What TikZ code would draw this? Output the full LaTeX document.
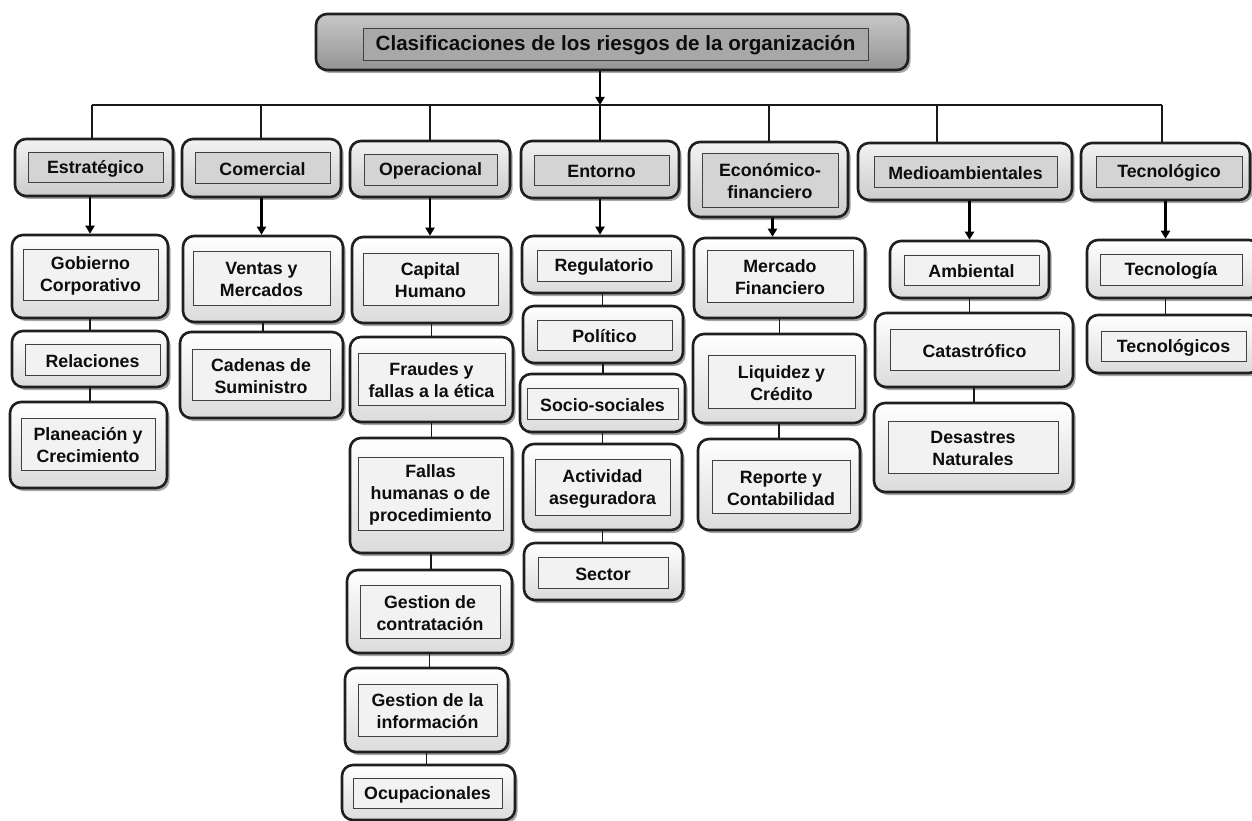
\documentclass[tikz,border=0pt]{standalone}
\usepackage{fontspec}
\setmainfont{Liberation Sans}
\usetikzlibrary{arrows.meta,fit,shadows}

% A rounded box with an inner framed label:
% #1 name, #2/#3 outer corners, #4/#5 inner corners, #6 text, #7 level (child, cat, title)
\newcommand\riskbox[7]{%
  \node[#7O, fit={#2 #3}] (#1) {};
  \node[#7I, fit={#4 #5}] (#1-i) {};
  \node[lbl, #7T] (#1-t) at ([yshift=-1.5pt]#1-i.center) {#6};
}

\begin{document}
\begin{tikzpicture}[x=1pt, y=-1pt,
  outerbox/.style={draw=black!88, line width=2.6pt, rounded corners=11pt, inner sep=0pt,
    drop shadow={shadow xshift=2.5pt, shadow yshift=-3pt, opacity=0.35, fill=black}},
  childO/.style={outerbox, top color=white, bottom color=black!14},
  catO/.style={outerbox, top color=black!5, bottom color=black!20},
  titleO/.style={outerbox, top color=black!22, bottom color=black!42},
  innerbox/.style={draw=black!75, line width=0.9pt, inner sep=0pt},
  childI/.style={innerbox, fill=black!5},
  catI/.style={innerbox, fill=black!17},
  titleI/.style={innerbox, fill=black!34},
  lbl/.style={font=\bfseries\fontsize{17.8}{22}\selectfont, align=center, text=black!95, inner sep=0pt},
  childT/.style={}, catT/.style={},
  titleT/.style={font=\bfseries\fontsize{20.6}{24}\selectfont},
  link/.style={line width=1.4pt, black!90},
  arr/.style={line width=2.6pt, black, -{Triangle[length=8pt,width=9pt]}},
  trunk/.style={line width=2.6pt, black}
]
\useasboundingbox (0,0) rectangle (1252,821);

% title
\riskbox{title}{(316,14)}{(908,70)}{(363,28)}{(868,60)}{Clasificaciones de los riesgos de la organización}{title}

% categories
\riskbox{estr}{(15,139)}{(173,196)}{(28,152)}{(163,182)}{Estratégico}{cat}
\riskbox{com}{(182,139)}{(341,197)}{(195,152)}{(330,183)}{Comercial}{cat}
\riskbox{op}{(350,141)}{(510,197)}{(364,154)}{(497,185)}{Operacional}{cat}
\riskbox{ent}{(521,141)}{(679,198)}{(534,155)}{(669,185)}{Entorno}{cat}
\riskbox{eco}{(689,142)}{(848,217)}{(702,153)}{(838,207)}{Económico-\\financiero}{cat}
\riskbox{med}{(858,143)}{(1072,200)}{(874,156)}{(1057,187)}{Medioambientales}{cat}
\riskbox{tec}{(1081,143)}{(1250,200)}{(1096,156)}{(1242,187)}{Tecnológico}{cat}

% Estratégico
\riskbox{gob}{(12,235)}{(168,318)}{(23,249)}{(158,300)}{Gobierno\\Corporativo}{child}
\riskbox{rel}{(12,331)}{(168,387)}{(25,344)}{(160,375)}{Relaciones}{child}
\riskbox{pla}{(10,402)}{(167,488)}{(21,418)}{(155,470)}{Planeación y\\Crecimiento}{child}
% Comercial
\riskbox{ven}{(183,236)}{(343,322)}{(193,251)}{(330,305)}{Ventas y\\Mercados}{child}
\riskbox{cad}{(180,332)}{(343,418)}{(192,349)}{(330,400)}{Cadenas de\\Suministro}{child}
% Operacional
\riskbox{cap}{(352,237)}{(511,323)}{(363,253)}{(498,305)}{Capital\\Humano}{child}
\riskbox{fra}{(350,337)}{(513,422)}{(358,353)}{(505,405)}{Fraudes y\\fallas a la ética}{child}
\riskbox{fal}{(350,438)}{(512,553)}{(358,457)}{(503,530)}{Fallas\\humanas o de\\procedimiento}{child}
\riskbox{gco}{(347,570)}{(512,653)}{(360,585)}{(500,638)}{Gestion de\\contratación}{child}
\riskbox{gin}{(345,668)}{(508,752)}{(358,684)}{(497,736)}{Gestion de la\\información}{child}
\riskbox{ocu}{(342,765)}{(515,820)}{(353,778)}{(502,808)}{Ocupacionales}{child}
% Entorno
\riskbox{reg}{(522,236)}{(683,293)}{(537,250)}{(671,281)}{Regulatorio}{child}
\riskbox{pol}{(523,306)}{(683,363)}{(537,320)}{(672,350)}{Político}{child}
\riskbox{soc}{(520,374)}{(685,432)}{(527,388)}{(678,419)}{Socio-sociales}{child}
\riskbox{act}{(523,444)}{(682,530)}{(535,459)}{(670,515)}{Actividad\\aseguradora}{child}
\riskbox{sec}{(524,543)}{(683,600)}{(538,557)}{(668,588)}{Sector}{child}
% Económico-financiero
\riskbox{mer}{(694,238)}{(865,318)}{(707,250)}{(853,302)}{Mercado\\Financiero}{child}
\riskbox{liq}{(693,334)}{(865,423)}{(708,355)}{(855,408)}{Liquidez y\\Crédito}{child}
\riskbox{rep}{(698,439)}{(860,530)}{(712,460)}{(850,513)}{Reporte y\\Contabilidad}{child}
% Medioambientales
\riskbox{amb}{(890,241)}{(1049,298)}{(904,255)}{(1039,285)}{Ambiental}{child}
\riskbox{cat}{(875,313)}{(1073,387)}{(890,329)}{(1059,370)}{Catastrófico}{child}
\riskbox{des}{(874,403)}{(1073,492)}{(888,421)}{(1058,473)}{Desastres\\Naturales}{child}
% Tecnológico
\riskbox{tcn}{(1087,240)}{(1260,298)}{(1100,254)}{(1242,285)}{Tecnología}{child}
\riskbox{tcs}{(1087,315)}{(1260,373)}{(1101,331)}{(1246,361)}{Tecnológicos}{child}

% distribution bar
\coordinate (hub) at (600,105);
\coordinate (d1) at (92,105);
\coordinate (d2) at (261,105);
\coordinate (d3) at (430,105);
\coordinate (d5) at (769,105);
\coordinate (d6) at (937,105);
\coordinate (d7) at (1162,105);
\draw[link] (d1) -- (d7);
\draw[arr] (hub |- title.south) -- (hub);
\draw[trunk] (hub) -- (hub |- ent.north);
\foreach \d/\c in {d1/estr, d2/com, d3/op, d5/eco, d6/med, d7/tec}
  \draw[link] (\d) -- (\d |- \c.north);

% category to first item
\draw[arr] (gob.north |- estr.south) -- (gob.north);
\draw[arr] (com.south) -- (com.south |- ven.north);
\draw[arr] (op.south) -- (op.south |- cap.north);
\draw[arr] (ent.south) -- (ent.south |- reg.north);
\draw[arr] ([xshift=4pt]eco.south) -- ([xshift=4pt]eco.south |- mer.north);
\draw[arr] (amb.north |- med.south) -- (amb.north);
\draw[arr] (tec.south) -- (tec.south |- tcn.north);

% links within each column
\foreach \a/\b in {gob/rel, rel/pla, ven/cad, cap/fra, fra/fal, fal/gco, gco/gin, gin/ocu,
                   reg/pol, pol/soc, soc/act, act/sec, mer/liq, liq/rep, amb/cat, cat/des}
  \draw[link] (\a.south) -- (\a.south |- \b.north);
\draw[link] (tec.south |- tcn.south) -- (tec.south |- tcs.north);
\end{tikzpicture}
\end{document}
